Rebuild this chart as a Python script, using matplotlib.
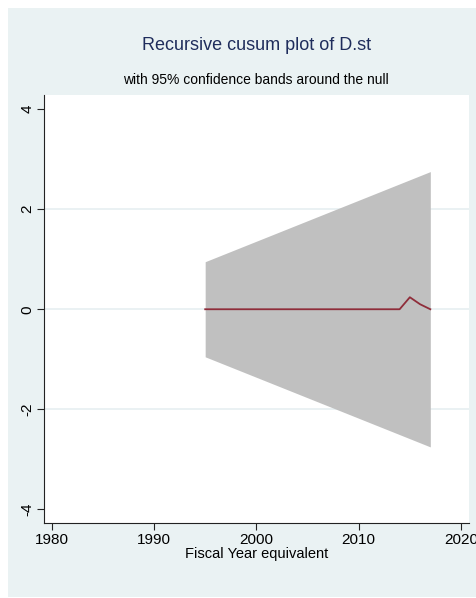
import matplotlib
matplotlib.use("Agg")
import matplotlib.pyplot as plt
from matplotlib.patches import Rectangle

plt.rcParams['font.family'] = ['Liberation Sans Narrow', 'Liberation Sans', 'DejaVu Sans']

# data
band_years = [1995, 2017]
band_upper = [0.95, 2.75]
band_lower = [-0.95, -2.75]

cusum_years = [1995, 1996, 1997, 1998, 1999, 2000, 2001, 2002, 2003, 2004, 2005,
               2006, 2007, 2008, 2009, 2010, 2011, 2012, 2013, 2014, 2015, 2016, 2017]
cusum_vals = [0, 0, 0, 0, 0, 0, 0, 0, 0, 0, 0,
              0, 0, 0, 0, 0, 0, 0, 0, 0, 0.24, 0.10, 0]

xticks = [1980, 1990, 2000, 2010, 2020]
yticks = [-4, -2, 0, 2, 4]

W, H = 476, 598
fig = plt.figure(figsize=(W / 100, H / 100), dpi=100, facecolor='#eaf2f3')
# white margins on top, left and bottom
for x0, y0, w, h in [(0, 1 - 8 / H, 1, 8 / H), (0, 0, 8 / W, 1), (0, 0, 1, 1 / H)]:
    fig.patches.append(Rectangle((x0, y0), w, h, transform=fig.transFigure,
                                 facecolor='white', edgecolor='none'))

ax = fig.add_axes([44 / W, 1 - 523 / H, (469 - 44) / W, (523 - 95) / H])
ax.set_facecolor('white')

ax.fill_between(band_years, band_lower, band_upper, color='#c0c0c0', linewidth=0, zorder=2)
ax.plot(cusum_years, cusum_vals, color='#8f2d3a', linewidth=1.3, zorder=3)

for y in [-2, 0, 2]:
    ax.axhline(y, color='#e6eff1', linewidth=1.2, zorder=1)

ax.set_xlim(1979.25, 2020.78)
ax.set_ylim(-4.27, 4.28)
ax.set_xticks(xticks)
ax.set_yticks(yticks)
ax.set_yticklabels([str(v) for v in yticks], rotation=90, va='center')
ax.tick_params(axis='both', length=5, width=0.8, color='#222222', labelsize=11, pad=2)

for s in ['top', 'right']:
    ax.spines[s].set_visible(False)
for s in ['left', 'bottom']:
    ax.spines[s].set_color('#222222')
    ax.spines[s].set_linewidth(0.8)

ax.set_xlabel('Fiscal Year equivalent', fontsize=10.5, labelpad=0)

fig.text(257 / W, 1 - 46 / H, 'Recursive cusum plot of D.st', ha='center', va='center',
         fontsize=13, color='#1f2d5c')
fig.text(256 / W, 1 - 80 / H, 'with 95% confidence bands around the null', ha='center',
         va='center', fontsize=10, color='black')

fig.savefig('out.png', dpi=100, facecolor=fig.get_facecolor())
